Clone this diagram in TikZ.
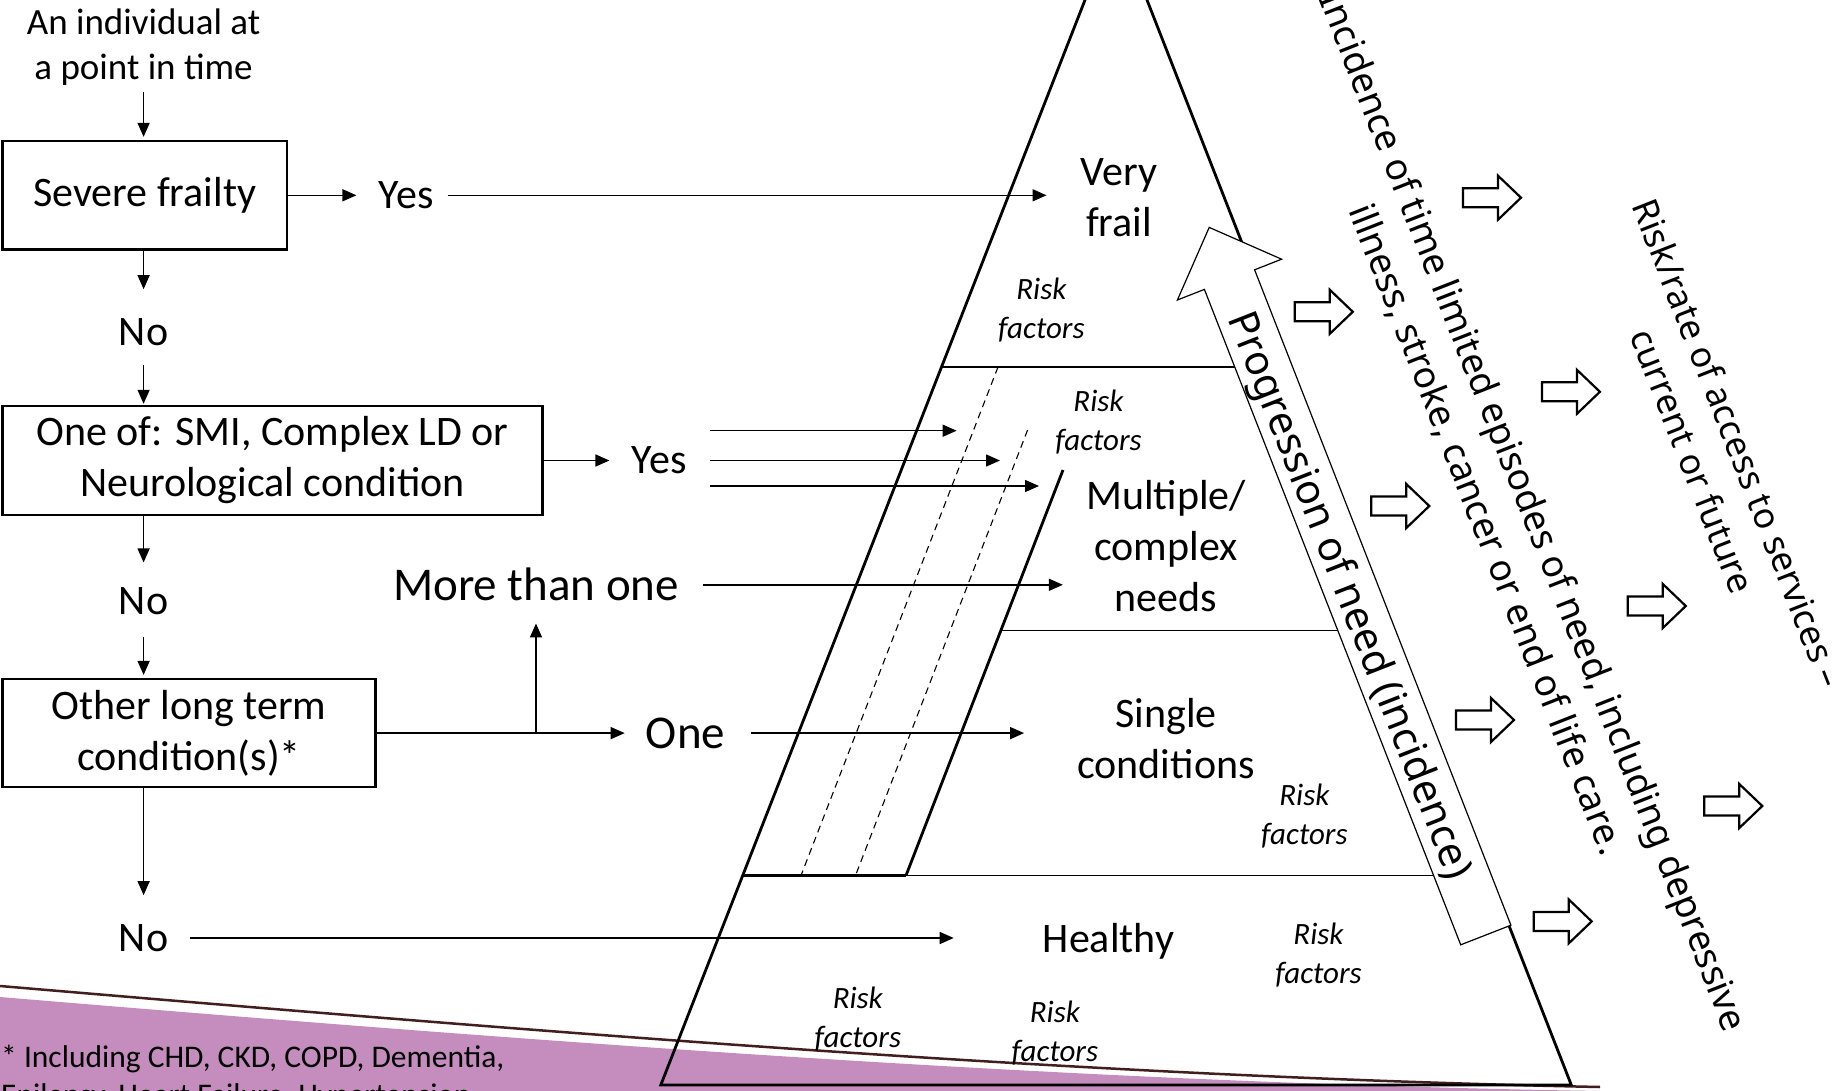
\documentclass[tikz,border=0pt]{standalone}
\usepackage{fontspec}
\setmainfont{Carlito}
\newfontfamily\rotfont{Noto Sans}
\usetikzlibrary{arrows.meta,calc}
\definecolor{slidepurple}{RGB}{197,141,190}
\definecolor{swooshline}{RGB}{66,30,30}
\begin{document}
\begin{tikzpicture}[x=1pt,y=-1pt,
  lbl/.style={font=\fontsize{42}{51}\selectfont, inner sep=0pt, align=center},
  biglbl/.style={font=\fontsize{47}{56}\selectfont, inner sep=0pt},
  toplbl/.style={font=\fontsize{37}{45}\selectfont, inner sep=0pt, align=center},
  flowbox/.style={draw, line width=2.4pt, inner sep=0pt, align=center, font=\fontsize{42}{51}\selectfont},
  risk/.style={font=\fontsize{31}{39}\selectfont\itshape, inner sep=0pt, align=center},
  arr/.style={-{Triangle[length=14pt,width=12pt]}, line width=1.5pt},
  pyredge/.style={line width=2.8pt},
  hairline/.style={line width=1.3pt},
  dashline/.style={line width=1.1pt, dash pattern=on 7pt off 5pt},
  slanttext/.style={font=\rotfont\fontsize{37}{50}\selectfont, rotate=-68.6, align=center, inner sep=0pt},
  hollow/.pic={\draw[line width=2.2pt, fill=white, miter limit=10]
     (-29,-9.5) -- (6,-9.5) -- (6,-22) -- (29,0) -- (6,22) -- (6,9.5) -- (-29,9.5) -- cycle;}
]
\useasboundingbox (0,0) rectangle (1845,1091);
\fill[white] (0,0) rectangle (1845,1091);

% slide decoration in the lower left corner
\fill[slidepurple] (0,997) .. controls (600,1047) and (1100,1083) .. (1600,1091) -- (0,1091) -- cycle;
\draw[swooshline, line width=2.5pt] (0,986) .. controls (600,1037) and (1100,1077) .. (1600,1087);

% footnote
\node[font=\fontsize{31.5}{38}\selectfont, align=left, inner sep=0pt, anchor=north west] (note)
  at (1,1045) {* Including CHD, CKD, COPD, Dementia,\\Epilepsy, Heart Failure, Hypertension};

% pyramid outline
\draw[pyredge, line join=miter] (1116,-79.3) -- (660.8,1085) -- (1571.3,1085) -- cycle;

% bands of the pyramid
\draw[pyredge] (941.5,367) -- (1103.5,367);
\draw[hairline] (1103.5,367) -- (1290,367);
\draw[pyredge] (1063,470) -- (906,875.5);
\draw[pyredge] (742.7,875.5) -- (906,875.5);
\draw[hairline] (906,875.5) -- (1489.3,875.5);
\draw[hairline] (1000.8,630.7) -- (1393.6,630.7);
\draw[dashline] (998,367) -- (801,875.5);
\draw[dashline] (1027.6,430) -- (855.5,875.5);

% flow chart nodes
\node[toplbl] (start) at (143.6,47) {An individual at\\a point in time};
\node[flowbox, minimum width=284.6pt, minimum height=108.5pt] (frail) at (144.7,195.3) {Severe frailty};
\node[lbl] (yes1) at (406,195.3) {Yes};
\node[lbl] (no1) at (143.6,332) {No};
\node[flowbox, minimum width=540pt, minimum height=109pt] (lsmi) at (272.5,460.5) {One of: SMI, Complex LD or\\Neurological condition};
\node[lbl] (yes2) at (659,460.5) {Yes};
\node[lbl] (no2) at (143.6,601.3) {No};
\node[flowbox, minimum width=373pt, minimum height=108pt] (ltc) at (188.9,733.1) {Other long term\\condition(s)*};
\node[biglbl] (more) at (536,584.8) {More than one};
\node[biglbl] (one) at (685.5,733.1) {One};
\node[lbl] (no3) at (143.6,938) {No};

% pyramid labels
\node[lbl] (vf) at (1119,198) {Very\\frail};
\node[lbl] (mult) at (1166,546) {Multiple/\\complex\\needs};
\node[lbl] (single) at (1166,739) {Single\\conditions};
\node[lbl] (healthy) at (1108.5,941) {Healthy};

\node[risk] (rf1) at (1041.4,310) {Risk\\factors};
\node[risk] (rf2) at (1098.5,421.8) {Risk\\factors};
\node[risk] (rf3) at (1304.4,816) {Risk\\factors};
\node[risk] (rf4) at (1318.5,955.5) {Risk\\factors};
\node[risk] (rf5) at (857.8,1019) {Risk\\factors};
\node[risk] (rf6) at (1054.9,1033.1) {Risk\\factors};

% connectors
\draw[arr, shorten <=6pt, shorten >=3pt] (start.south) -- (start.south |- frail.north);
\draw[arr, shorten >=22pt] (frail.east) -- (yes1.west);
\draw[arr, shorten <=14pt, shorten >=34pt] (yes1.east) -- (yes1.east -| vf.west);
\draw[arr, shorten >=29pt] (frail.south -| no1.north) -- (no1.north);
\draw[arr, shorten <=19pt, shorten >=1pt] (no1.south) -- (no1.south |- lsmi.north);
\draw[arr, shorten >=22pt] (lsmi.east) -- (lsmi.east -| yes2.west);
\draw[arr, shorten >=25pt] (no2.north |- lsmi.south) -- (no2.north);
\draw[arr, shorten <=22pt, shorten >=3pt] (no2.south) -- (no2.south |- ltc.north);
\draw[arr, shorten >=29pt] (no3.north |- ltc.south) -- (no3.north);

\coordinate (ya1) at (709.5,430.7);
\coordinate (ya2) at (709.5,460.5);
\coordinate (ya3) at (709.5,486);
\coordinate (yb1) at (956.6,430.7);
\coordinate (yb2) at (1000,460.5);
\coordinate (yb3) at (1039,486);
\draw[arr] (ya1) -- (yb1);
\draw[arr] (ya2) -- (yb2);
\draw[arr] (ya3) -- (yb3);

\coordinate (jn) at (ltc.east -| more.south);
\draw[arr, shorten >=21pt] (ltc.east) -- (ltc.east -| one.west);
\draw[arr, shorten >=22pt] (jn) -- (more.south);
\draw[arr, shorten <=24pt, shorten >=23pt] (more.east) -- (more.east -| mult.west);
\draw[arr, shorten <=26pt, shorten >=53pt] (one.east) -- (one.east -| single.west);
\draw[arr, shorten <=22pt, shorten >=89pt] (no3.east) -- (no3.east -| healthy.west);

% progression arrow along the right side of the pyramid
\draw[line width=1.2pt, fill=white, line join=miter]
  (1460.7,944.8) -- (1510.9,925.2) -- (1254.6,269.8) -- (1281.6,259.2) -- (1209.2,227.4)
  -- (1177.4,300) -- (1204.4,289.4) -- cycle;
\node[font=\rotfont\fontsize{41}{50}\selectfont, rotate=-68.6, inner sep=0pt] (prog) at (1348,596)
  {Progression of need (incidence)};

% hollow arrows
\pic at (1492,197.7) {hollow};
\pic at (1323.8,311.8) {hollow};
\pic at (1570.9,391.8) {hollow};
\pic at (1400.3,506) {hollow};
\pic at (1656.8,606) {hollow};
\pic at (1485,720) {hollow};
\pic at (1733.3,806) {hollow};
\pic at (1562.7,921.4) {hollow};

% slanted captions
\node[slanttext] (inc) at (1509.3,520.7)
  {Incidence of time limited episodes of need, including depressive\\illness, stroke, cancer or end of life care.};
\node[slanttext, font=\rotfont\fontsize{35.5}{49}\selectfont] (acc) at (1716,452)
  {Risk/rate of access to services –\\current or future};
\end{tikzpicture}
\end{document}
